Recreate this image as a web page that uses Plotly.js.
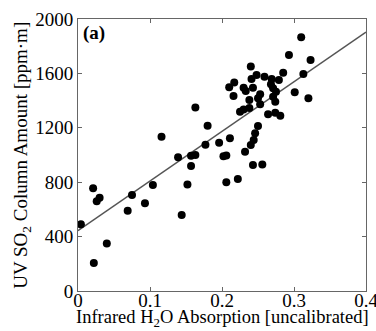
<!DOCTYPE html>
<html>
<head>
<meta charset="utf-8">
<script src="https://cdn.plot.ly/plotly-3.0.1.min.js"></script>
<style>html,body{margin:0;padding:0;background:#fff;}#chart{width:376px;height:331px;}</style>
</head>
<body>
<div id="chart"></div>
<script>
// Infrared H2O absorption (uncalibrated)
const irAbsorption = [
  0.004, 0.021, 0.026, 0.030, 0.022, 0.040, 0.069, 0.075, 0.093, 0.104,
  0.116, 0.139, 0.144, 0.152, 0.157, 0.163, 0.157, 0.163, 0.177, 0.180,
  0.196, 0.202, 0.206, 0.206, 0.222, 0.211, 0.232, 0.240, 0.244, 0.246,
  0.250, 0.243, 0.256, 0.225, 0.230, 0.238, 0.238, 0.216, 0.210, 0.217,
  0.230, 0.233, 0.243, 0.241, 0.240, 0.248, 0.259, 0.269, 0.279, 0.285,
  0.268, 0.271, 0.275, 0.253, 0.250, 0.271, 0.274, 0.253, 0.264, 0.274,
  0.281, 0.301, 0.320, 0.313, 0.323, 0.293, 0.310
];
// UV SO2 column amount (ppm·m)
const uvSO2 = [
  490, 755, 660, 685, 205, 350, 590, 705, 645, 780,
  1135, 983, 559, 784, 995, 1000, 920, 1350, 1075, 1215,
  1090, 990, 997, 800, 823, 1123, 1024, 1074, 1110, 1160,
  1213, 926, 931, 1318, 1335, 1345, 1404, 1434, 1498, 1534,
  1495, 1471, 1495, 1559, 1650, 1588, 1576, 1559, 1551, 1605,
  1520, 1490, 1465, 1446, 1417, 1429, 1392, 1373, 1299, 1310,
  1289, 1461, 1417, 1596, 1699, 1735, 1865
];
// Linear fit parameters
const fitIntercept = 443;
const fitSlope = 3650;
const fitX = [0, 0.4];
const fitY = fitX.map(x => fitIntercept + fitSlope * x);

const xTicks = [0, 0.1, 0.2, 0.3, 0.4];
const xTickText = ['0', '0.1', '0.2', '0.3', '0.4'];
const yTicks = [0, 400, 800, 1200, 1600, 2000];
const yTickText = ['0', '400', '800', '1200', '1600', '2000'];

const xTitle = 'Infrared H<sub>2</sub>O Absorption [uncalibrated]';
const yTitle = 'UV SO<sub>2</sub> Column Amount [ppm·m]';

const fontFam = 'Liberation Serif';

const traces = [
  {
    x: fitX, y: fitY, type: 'scatter', mode: 'lines',
    line: {color: '#555555', width: 1.5}, hoverinfo: 'skip', showlegend: false
  },
  {
    x: irAbsorption, y: uvSO2, type: 'scatter', mode: 'markers',
    marker: {color: '#000000', size: 8}, showlegend: false
  }
];

const axisCommon = {
  showgrid: false, zeroline: false, showline: true, linecolor: '#666666', linewidth: 1,
  mirror: 'ticks', ticks: 'inside', ticklen: 4, tickcolor: '#666666', tickwidth: 1,
  tickfont: {family: fontFam, size: 19, color: '#000000'}, automargin: false,
  ticklabeloverflow: 'allow'
};

const layout = {
  width: 376, height: 331,
  margin: {l: 78, r: 10, t: 19, b: 40},
  paper_bgcolor: '#ffffff', plot_bgcolor: '#ffffff',
  font: {family: fontFam, color: '#000000'},
  xaxis: Object.assign({}, axisCommon, {range: [0, 0.4], tickvals: xTicks, ticktext: xTickText, ticklabelstandoff: -8}),
  yaxis: Object.assign({}, axisCommon, {range: [0, 2000], tickvals: yTicks, ticktext: yTickText}),
  annotations: [
    {
      text: '<b>(a)</b>', xref: 'paper', yref: 'paper', x: 0.01, y: 0.995,
      xanchor: 'left', yanchor: 'top', showarrow: false,
      font: {family: fontFam, size: 19, color: '#000'}
    },
    {
      text: xTitle, xref: 'paper', yref: 'paper', x: 0.5, y: -0.149,
      xanchor: 'center', yanchor: 'bottom', showarrow: false,
      font: {family: fontFam, size: 18.5, color: '#000'}
    },
    {
      text: yTitle, xref: 'paper', yref: 'paper', x: -0.195, y: 0.5, textangle: -90,
      xanchor: 'center', yanchor: 'middle', showarrow: false,
      font: {family: fontFam, size: 19, color: '#000'}
    }
  ]
};

Plotly.newPlot('chart', traces, layout, {staticPlot: true, displayModeBar: false});
</script>
</body>
</html>
